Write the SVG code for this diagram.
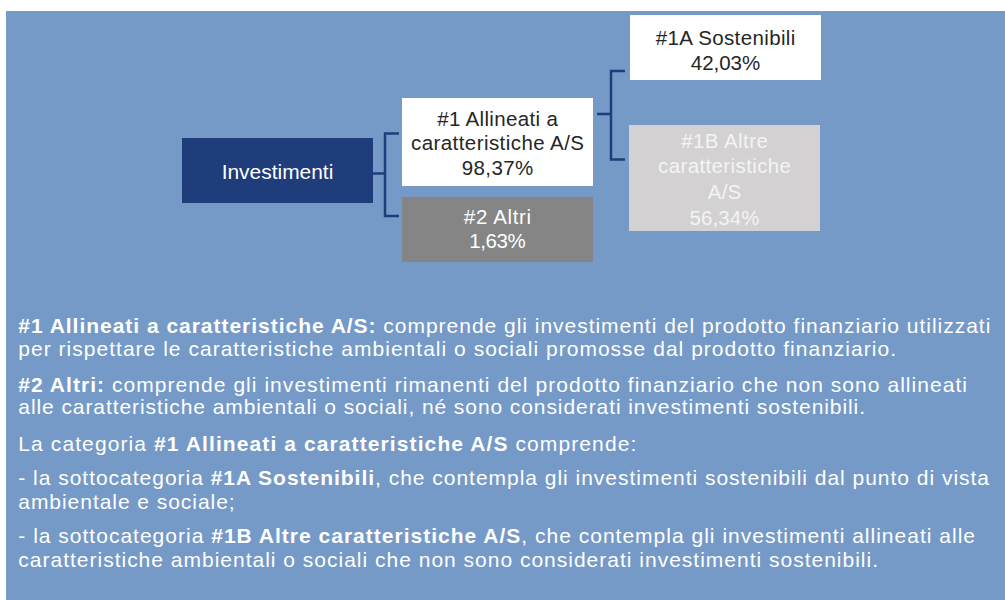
<svg xmlns="http://www.w3.org/2000/svg" width="1005" height="600" viewBox="0 0 1005 600">
<style>
.bt{font-family:"Liberation Sans",Arial,Helvetica,sans-serif;font-size:20.5px;text-anchor:middle}
.dark{fill:#262626}
.light{fill:#ffffff}
.pale{fill:#f4f4f4}
.p{font-family:"Liberation Sans",Arial,Helvetica,sans-serif;font-size:21px;fill:#ffffff}
.b{font-weight:bold}
.con{fill:none;stroke:#1f3d7a;stroke-width:2.5}
</style>
<rect x="0" y="0" width="1005" height="600" fill="#ffffff"/>
<rect x="6" y="11" width="999" height="589" fill="#759ac7"/>
<g id="connectors">
<path class="con" d="M373 173.5H385M399 133.5H385V216H399"/>
<path class="con" d="M597 114H611M625 71H611V159.5H625"/>
</g>
<g id="node-investimenti">
<rect x="182" y="138" width="191" height="65" fill="#1f3d7a"/>
<text class="bt light" x="277.5" y="178.5" textLength="111.7" lengthAdjust="spacingAndGlyphs">Investimenti</text>
</g>
<g id="node-1">
<rect x="402" y="98" width="191" height="88" fill="#ffffff"/>
<text class="bt dark" x="497.5" y="125.7" textLength="120.7">#1 Allineati a</text>
<text class="bt dark" x="497.5" y="150.3" textLength="173">caratteristiche A/S</text>
<text class="bt dark" x="497.5" y="175" textLength="71.7">98,37%</text>
</g>
<g id="node-2">
<rect x="402" y="197" width="191" height="65" fill="#858585"/>
<text class="bt light" x="497.5" y="224" textLength="67.3">#2 Altri</text>
<text class="bt light" x="497.5" y="248.3" textLength="56.7">1,63%</text>
</g>
<g id="node-1a">
<rect x="630" y="15" width="191" height="65" fill="#ffffff"/>
<text class="bt dark" x="725.5" y="45" textLength="139.7">#1A Sostenibili</text>
<text class="bt dark" x="725.5" y="70" textLength="69.3">42,03%</text>
</g>
<g id="node-1b">
<rect x="629" y="125" width="191" height="106" fill="#d3d1d2"/>
<text class="bt pale" x="724.5" y="147.7" textLength="86.7">#1B Altre</text>
<text class="bt pale" x="724.5" y="173.3" textLength="133">caratteristiche</text>
<text class="bt pale" x="724.5" y="199.3" textLength="33.3">A/S</text>
<text class="bt pale" x="724.5" y="225" textLength="70">56,34%</text>
</g>
<g id="legend">
<text class="p" x="18.3" y="333.3" textLength="972"><tspan class="b">#1 Allineati a caratteristiche A/S:</tspan> comprende gli investimenti del prodotto finanziario utilizzati</text>
<text class="p" x="18.3" y="355.5" textLength="877.7">per rispettare le caratteristiche ambientali o sociali promosse dal prodotto finanziario.</text>
<text class="p" x="18.3" y="391.7" textLength="948.7"><tspan class="b">#2 Altri:</tspan> comprende gli investimenti rimanenti del prodotto finanziario che non sono allineati</text>
<text class="p" x="18.3" y="414" textLength="846.7">alle caratteristiche ambientali o sociali, né sono considerati investimenti sostenibili.</text>
<text class="p" x="18.3" y="450.7" textLength="618">La categoria <tspan class="b">#1 Allineati a caratteristiche A/S</tspan> comprende:</text>
<text class="p" x="18.3" y="485" textLength="970.7">- la sottocategoria <tspan class="b">#1A Sostenibili</tspan>, che contempla gli investimenti sostenibili dal punto di vista</text>
<text class="p" x="18.3" y="508.5" textLength="216.3">ambientale e sociale;</text>
<text class="p" x="18.3" y="543" textLength="956.7">- la sottocategoria <tspan class="b">#1B Altre caratteristiche A/S</tspan>, che contempla gli investimenti allineati alle</text>
<text class="p" x="18.3" y="566.5" textLength="859.7">caratteristiche ambientali o sociali che non sono considerati investimenti sostenibili.</text>
</g>
</svg>
